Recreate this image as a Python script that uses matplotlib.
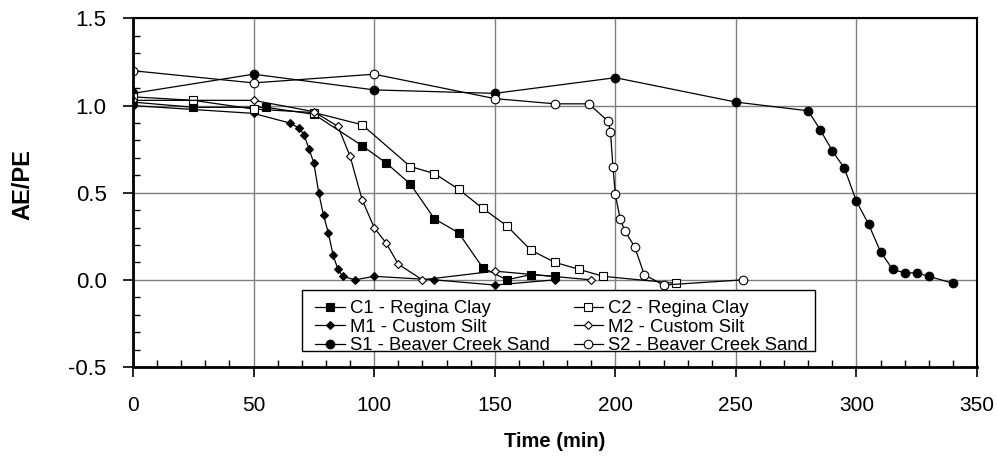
import matplotlib
matplotlib.use("Agg")
import matplotlib.pyplot as plt
from matplotlib.ticker import MultipleLocator
from matplotlib.patches import Rectangle

plt.rcParams['font.family'] = ['Liberation Sans', 'DejaVu Sans']

# C1 / C2 - Regina Clay
c1_t = [0, 25, 55, 75, 95, 105, 115, 125, 135, 145, 155, 165, 175]
c1_v = [1.02, 0.99, 0.99, 0.95, 0.77, 0.67, 0.55, 0.35, 0.27, 0.07, 0.0, 0.03, 0.02]
c2_t = [0, 25, 50, 75, 95, 115, 125, 135, 145, 155, 165, 175, 185, 195, 225]
c2_v = [1.05, 1.03, 0.98, 0.96, 0.89, 0.65, 0.61, 0.52, 0.41, 0.31, 0.17, 0.10, 0.06, 0.02, -0.02]

# M1 / M2 - Custom Silt
m1_t = [0, 50, 65, 69, 71, 73, 75, 77, 79, 81, 83, 85, 87, 92, 100, 125, 150, 175]
m1_v = [1.0, 0.955, 0.90, 0.87, 0.83, 0.75, 0.67, 0.50, 0.37, 0.27, 0.14, 0.06, 0.02, 0.0, 0.02, 0.0, -0.03, 0.0]
m2_t = [0, 50, 75, 85, 90, 95, 100, 105, 110, 120, 150, 190]
m2_v = [1.03, 1.03, 0.965, 0.88, 0.71, 0.46, 0.30, 0.21, 0.09, 0.0, 0.05, 0.0]

# S1 / S2 - Beaver Creek Sand
s1_t = [0, 50, 100, 150, 200, 250, 280, 285, 290, 295, 300, 305, 310, 315, 320, 325, 330, 340]
s1_v = [1.07, 1.18, 1.09, 1.07, 1.16, 1.02, 0.97, 0.86, 0.74, 0.64, 0.45, 0.32, 0.16, 0.06, 0.04, 0.04, 0.02, -0.02]
s2_t = [0, 50, 100, 150, 175, 189, 197, 198, 199, 200, 202, 204, 208, 212, 220, 253]
s2_v = [1.20, 1.13, 1.18, 1.04, 1.01, 1.01, 0.91, 0.85, 0.65, 0.49, 0.35, 0.28, 0.19, 0.03, -0.03, 0.0]

fig = plt.figure(figsize=(9.97, 4.61), dpi=100)
ax = fig.add_axes([0.1334, 0.204, 0.8466, 0.756])

ax.grid(True, which='major', color='#7f7f7f', linewidth=1.0)
ax.set_axisbelow(True)

kw = dict(color='black', linewidth=0.9, markeredgecolor='black', markeredgewidth=0.8)
h_c1, = ax.plot(c1_t, c1_v, marker='s', markersize=6, markerfacecolor='black', label='C1 - Regina Clay', **kw)
h_m1, = ax.plot(m1_t, m1_v, marker='D', markersize=4.5, markerfacecolor='black', label='M1 - Custom Silt', **kw)
h_s1, = ax.plot(s1_t, s1_v, marker='o', markersize=6.2, markerfacecolor='black', label='S1 - Beaver Creek Sand', **kw)
h_c2, = ax.plot(c2_t, c2_v, marker='s', markersize=6, markerfacecolor='white', label='C2 - Regina Clay', **kw)
h_m2, = ax.plot(m2_t, m2_v, marker='D', markersize=4.5, markerfacecolor='white', label='M2 - Custom Silt', **kw)
h_s2, = ax.plot(s2_t, s2_v, marker='o', markersize=6.2, markerfacecolor='white', label='S2 - Beaver Creek Sand', **kw)

ax.set_xlim(0, 350)
ax.set_ylim(-0.5, 1.5)
ax.xaxis.set_major_locator(MultipleLocator(50))
ax.xaxis.set_minor_locator(MultipleLocator(10))
ax.yaxis.set_major_locator(MultipleLocator(0.5))
ax.yaxis.set_minor_locator(MultipleLocator(0.1))
ax.yaxis.set_major_formatter(plt.FuncFormatter(lambda v, p: f"{v:.1f}"))

ax.tick_params(which='major', direction='out', length=7, width=1.2)
ax.tick_params(axis='x', which='major', labelsize=15, pad=14)
ax.tick_params(axis='y', which='major', labelsize=16, pad=12)
ax.tick_params(which='minor', direction='in', length=5, width=1)

for side in ['left', 'bottom']:
    ax.spines[side].set_linewidth(2)
for side in ['top', 'right']:
    ax.spines[side].set_linewidth(1.5)

ax.set_xlabel('Time (min)', fontsize=14.5, fontweight='bold', labelpad=12)
fig.text(23 / 997, 0.6, 'AE/PE', rotation=90, ha='center', va='center',
         fontsize=17, fontweight='bold')

# legend box drawn separately so the entries can sit with a wider left margin
ax.add_patch(Rectangle((0.2, 0.046), 0.608, 0.175, transform=ax.transAxes,
                       facecolor='white', edgecolor='black', linewidth=1.0, zorder=4.9))
leg = ax.legend(handles=[h_c1, h_m1, h_s1, h_c2, h_m2, h_s2], ncol=2,
                loc='upper left', bbox_to_anchor=(0.2161, 0.191),
                fontsize=13.3, frameon=False, handlelength=1.6,
                handletextpad=0.26, borderpad=0, labelspacing=0.08, columnspacing=1.3,
                borderaxespad=0)
leg.set_zorder(5)

fig.savefig('out.png', dpi=100)
